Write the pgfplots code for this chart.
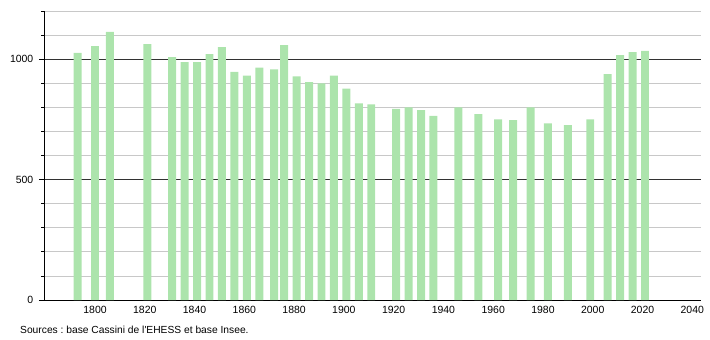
\documentclass[border=0pt]{standalone}
\usepackage{pgfplots}
\pgfplotsset{compat=1.18}
\usepackage{fontspec}
\setmainfont{Liberation Sans}
\definecolor{barg}{RGB}{172,228,172}
\definecolor{gridg}{RGB}{200,200,200}
\definecolor{gridd}{RGB}{50,50,50}
\begin{document}
\frenchspacing
\fontsize{10.5}{12}\selectfont
\begin{tikzpicture}
\begin{axis}[
  scale only axis, width=657bp, height=289bp,
  xmin=1779.5, xmax=2043.5, ymin=0, ymax=1200,
  axis lines*=left,
  axis line style={black, line width=0.9pt},
  xtick={1800,1820,...,2040},
  ytick={0,500,1000},
  minor ytick={100,200,300,400,600,700,800,900,1100,1200},
  ymajorgrids, yminorgrids,
  major grid style={gridd, line width=0.8pt},
  minor grid style={gridg, line width=0.7pt},
  tick align=outside,
  xtick style={draw=none},
  ytick style={black, line width=0.8pt},
  major tick length=5bp, minor tick length=2.5bp,
  /pgf/number format/assume math mode=true,
  /pgf/number format/set thousands separator={},
  xticklabel style={font=\fontsize{10.5}{12}\selectfont, yshift=2bp},
  yticklabel style={font=\fontsize{10.5}{12}\selectfont, xshift=-2bp},
  ybar, bar width=3.2,
  clip=false,
]
\addplot[draw=none, fill=barg] coordinates {
(1793,1026) (1800,1054) (1806,1113) (1821,1062) (1831,1008) (1836,988)
(1841,988) (1846,1021) (1851,1050) (1856,947) (1861,932) (1866,965)
(1872,958) (1876,1058) (1881,929) (1886,905) (1891,899) (1896,932)
(1901,878) (1906,816) (1911,812) (1921,794) (1926,800) (1931,788)
(1936,765) (1946,800) (1954,772) (1962,750) (1968,747) (1975,800)
(1982,733) (1990,726) (1999,750) (2006,938) (2011,1017) (2016,1029)
(2021,1034)
};
\end{axis}
\path (current axis.south west) ++(-44bp,-40bp) rectangle ++(710bp,340bp);
\node[anchor=west, font=\fontsize{10.3}{12}\selectfont, inner sep=0pt] at ([xshift=-24bp,yshift=-30bp]current axis.south west) {Sources : base Cassini de l\textquotesingle EHESS et base Insee.};
\end{tikzpicture}
\end{document}
